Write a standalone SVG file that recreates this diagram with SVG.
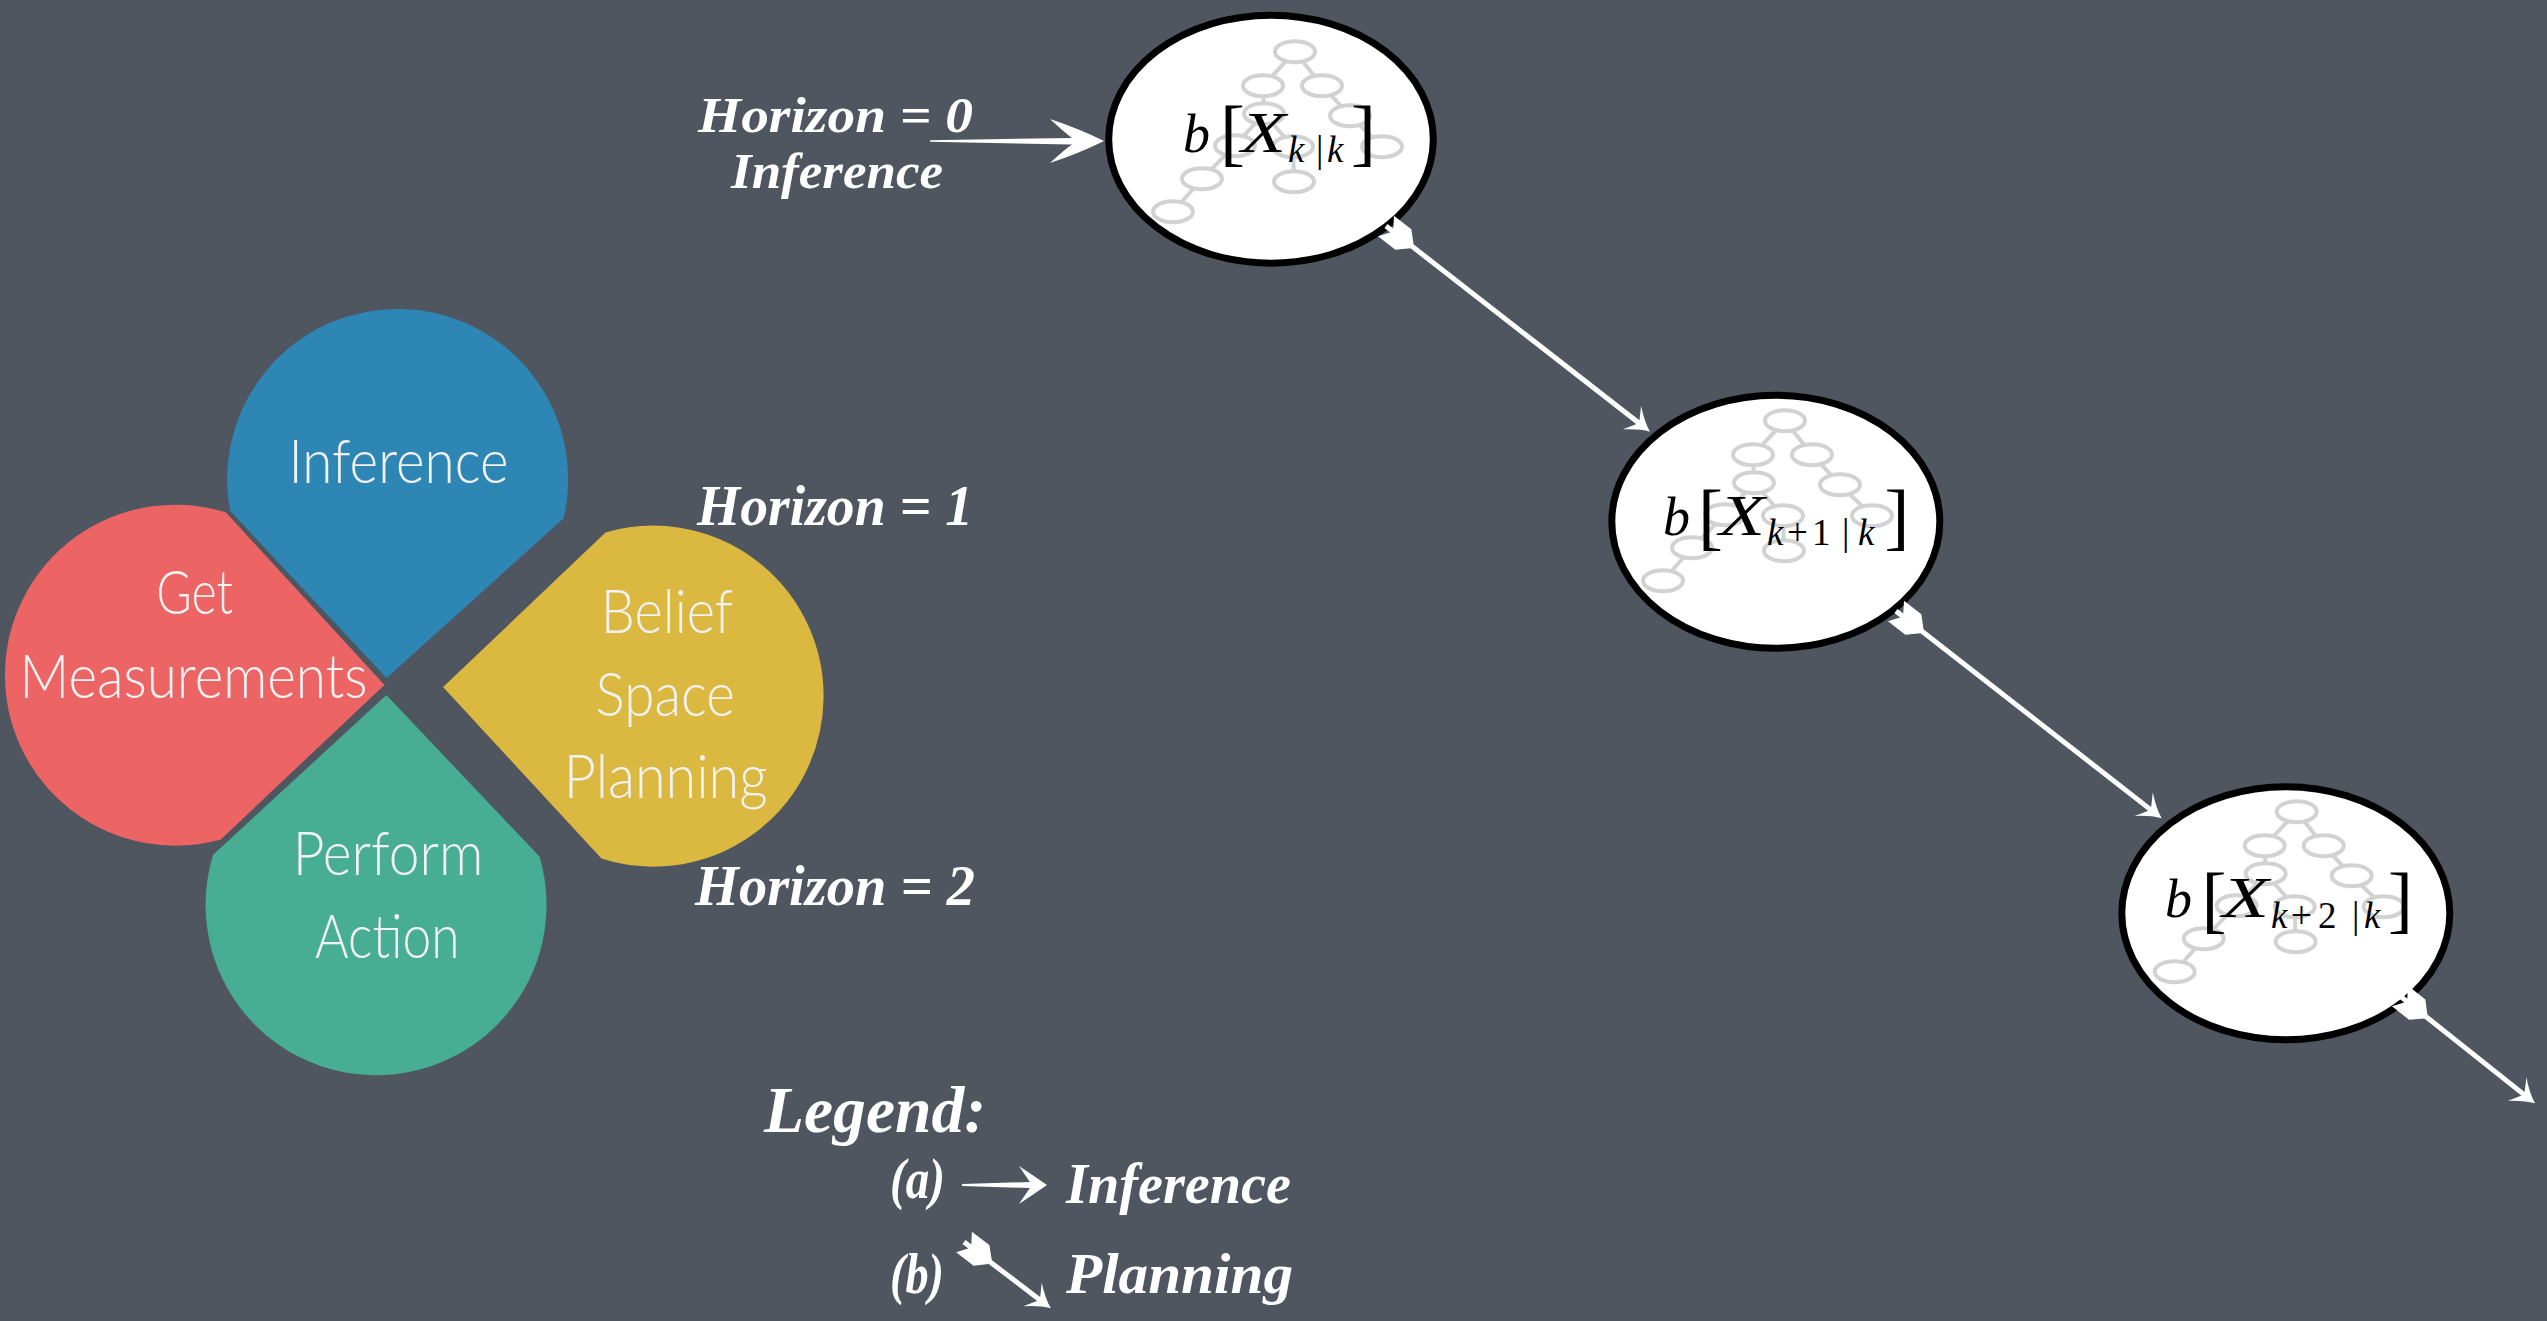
<svg xmlns="http://www.w3.org/2000/svg" width="2547" height="1321" viewBox="0 0 2547 1321">
<style>
.petal{stroke:#4f5660;stroke-width:3}
.ptxt{font-family:Lato,"Open Sans",sans-serif;font-weight:300;font-size:62px;fill:#f2f2f2}
.hand{font-family:"Liberation Serif",serif;font-weight:bold;font-style:italic;fill:#ffffff}
.node{fill:#ffffff;stroke:#000000;stroke-width:7}
.tree line{stroke:#d2d2d2;stroke-width:4}
.tree ellipse{stroke:#d2d2d2;stroke-width:4;fill:#ffffff}
.mi{font-family:"Liberation Serif",serif;font-style:italic;fill:#000000}
.mn{font-family:"Liberation Serif",serif;fill:#000000}
.plan{stroke:#ffffff;stroke-width:5;fill:none;marker-start:url(#fletch);marker-end:url(#head)}
.inf{fill:#ffffff}
</style>
<defs>
<marker id="fletch" markerUnits="userSpaceOnUse" orient="auto" refX="0" refY="0" markerWidth="40" markerHeight="30" overflow="visible">
<path d="M0,-13 L22,-13 L33,-2.5 L33,2.5 L22,13 L0,13 L9,0 Z" fill="#ffffff"/>
</marker>
<marker id="head" markerUnits="userSpaceOnUse" orient="auto" refX="0" refY="0" markerWidth="30" markerHeight="30" overflow="visible">
<path d="M10,0 Q0,-4 -13,-15 Q-6,-4 -4,0 Q-6,4 -13,15 Q0,4 10,0 Z" fill="#ffffff"/>
</marker>
<g id="tree" class="tree">
<line x1="0" y1="0" x2="-32" y2="34"/>
<line x1="0" y1="0" x2="27" y2="34"/>
<line x1="-32" y1="34" x2="-31" y2="62"/>
<line x1="27" y1="34" x2="55" y2="64"/>
<line x1="-31" y1="62" x2="-60" y2="94"/>
<line x1="-31" y1="62" x2="-2" y2="95"/>
<line x1="55" y1="64" x2="87" y2="95"/>
<line x1="-60" y1="94" x2="-93" y2="127"/>
<line x1="-2" y1="95" x2="-1" y2="130"/>
<line x1="-93" y1="127" x2="-122" y2="160"/>
<ellipse cx="0" cy="0" rx="20" ry="10.5"/>
<ellipse cx="-32" cy="34" rx="20" ry="10.5"/>
<ellipse cx="27" cy="34" rx="20" ry="10.5"/>
<ellipse cx="-31" cy="62" rx="20" ry="10.5"/>
<ellipse cx="55" cy="64" rx="20" ry="10.5"/>
<ellipse cx="-60" cy="94" rx="20" ry="10.5"/>
<ellipse cx="-2" cy="95" rx="20" ry="10.5"/>
<ellipse cx="87" cy="95" rx="20" ry="10.5"/>
<ellipse cx="-93" cy="127" rx="20" ry="10.5"/>
<ellipse cx="-1" cy="130" rx="20" ry="10.5"/>
<ellipse cx="-122" cy="160" rx="20" ry="10.5"/>
</g>
</defs>
<rect x="0" y="0" width="2547" height="1321" fill="#4f5660"/>

<g id="petal-inference">
<path class="petal" fill="#2e86b4" d="M386.5,680 L228.7,511.6 A172,172 0 1 1 565,519.2 Z"/>
<text class="ptxt" x="288.5" y="483" textLength="220" lengthAdjust="spacingAndGlyphs">Inference</text>
</g>
<g id="petal-measurements">
<path class="petal" fill="#ec6464" d="M386.5,685 L226.6,511 A172,172 0 1 0 221.3,841 Z"/>
<text class="ptxt" x="156.2" y="614" textLength="77" lengthAdjust="spacingAndGlyphs">Get</text>
<text class="ptxt" x="19.6" y="698" textLength="348" lengthAdjust="spacingAndGlyphs">Measurements</text>
</g>
<g id="petal-action">
<path class="petal" fill="#47ad93" d="M386.5,693 L211.8,853.8 A172,172 0 1 0 541,856 Z"/>
<text class="ptxt" x="292.7" y="875" textLength="190.6" lengthAdjust="spacingAndGlyphs">Perform</text>
<text class="ptxt" x="315" y="958" textLength="144.5" lengthAdjust="spacingAndGlyphs">Action</text>
</g>
<g id="petal-planning">
<path class="petal" fill="#dbb840" d="M441,687 L605,531 A172,172 0 1 1 600.8,860 Z"/>
<text class="ptxt" x="600.8" y="633" textLength="132.4" lengthAdjust="spacingAndGlyphs">Belief</text>
<text class="ptxt" x="595.6" y="716" textLength="139.2" lengthAdjust="spacingAndGlyphs">Space</text>
<text class="ptxt" x="563.8" y="798" textLength="203.8" lengthAdjust="spacingAndGlyphs">Planning</text>
</g>

<g id="horizon-labels">
<text class="hand" x="698" y="132" font-size="50" textLength="275" lengthAdjust="spacingAndGlyphs">Horizon = 0</text>
<text class="hand" x="731" y="188" font-size="50" textLength="212" lengthAdjust="spacingAndGlyphs">Inference</text>
<text class="hand" x="697" y="525" font-size="56" textLength="276" lengthAdjust="spacingAndGlyphs">Horizon = 1</text>
<text class="hand" x="695" y="905" font-size="56" textLength="280" lengthAdjust="spacingAndGlyphs">Horizon = 2</text>
</g>

<g id="belief-k">
<ellipse class="node" cx="1271" cy="139.2" rx="162.3" ry="124"/>
<use href="#tree" x="1295" y="51.7"/>
<text class="mi" x="1183" y="151.7" font-size="54">b</text>
<text class="mn" x="1220" y="157" font-size="75">[</text>
<text class="mi" x="1241" y="151.7" font-size="56" textLength="45" lengthAdjust="spacingAndGlyphs">X</text>
<text class="mi" x="1288" y="161.7" font-size="37">k</text>
<text class="mn" x="1316" y="161.7" font-size="37">|</text>
<text class="mi" x="1327" y="161.7" font-size="37">k</text>
<text class="mn" x="1351" y="157" font-size="75">]</text>
</g>

<g id="belief-k1">
<ellipse class="node" cx="1775.8" cy="521.7" rx="164" ry="126.5"/>
<use href="#tree" x="1785" y="420.7"/>
<text class="mi" x="1663" y="535" font-size="54">b</text>
<text class="mn" x="1698" y="541" font-size="75">[</text>
<text class="mi" x="1719" y="535" font-size="56" textLength="46" lengthAdjust="spacingAndGlyphs">X</text>
<text class="mi" x="1767" y="545" font-size="37">k</text>
<text class="mn" x="1787" y="545" font-size="37">+</text>
<text class="mn" x="1812" y="545" font-size="37">1</text>
<text class="mn" x="1842" y="545" font-size="37">|</text>
<text class="mi" x="1858" y="545" font-size="37">k</text>
<text class="mn" x="1884.5" y="541" font-size="75">]</text>
</g>

<g id="belief-k2">
<ellipse class="node" cx="2285.8" cy="913.3" rx="164" ry="126.5"/>
<use href="#tree" x="2296.7" y="811.7"/>
<text class="mi" x="2165" y="916.7" font-size="54">b</text>
<text class="mn" x="2201.5" y="924" font-size="75">[</text>
<text class="mi" x="2222" y="916.7" font-size="56" textLength="47" lengthAdjust="spacingAndGlyphs">X</text>
<text class="mi" x="2271" y="928.3" font-size="37">k</text>
<text class="mn" x="2291" y="928.3" font-size="37">+</text>
<text class="mn" x="2318" y="928.3" font-size="37">2</text>
<text class="mn" x="2352" y="928.3" font-size="37">|</text>
<text class="mi" x="2364" y="928.3" font-size="37">k</text>
<text class="mn" x="2388" y="924" font-size="75">]</text>
</g>

<g id="connectors">
<path class="inf" d="M1104,141 Q1080,129 1050,119 Q1064,132 1072,138 L930,140.2 L930,141.8 L1072,144.5 Q1064,150 1050,163 Q1080,153 1104,141 Z"/>
<path class="plan" d="M1386,226 L1642.1,425.5"/>
<path class="plan" d="M1896,611 L2153.8,812.1"/>
<path class="plan" d="M2400,996 L2527.2,1097.1"/>
</g>

<g id="legend">
<text class="hand" x="764" y="1132" font-size="66" textLength="222" lengthAdjust="spacingAndGlyphs">Legend:</text>
<text class="hand" x="890" y="1198" font-size="56" textLength="55" lengthAdjust="spacingAndGlyphs">(a)</text>
<path class="inf" d="M1047,1185 Q1034,1176 1019,1166 Q1027,1178 1030,1182 L962,1184 L962,1186 L1030,1188 Q1027,1192 1019,1204 Q1034,1194 1047,1185 Z"/>
<text class="hand" x="1066" y="1203" font-size="56" textLength="225" lengthAdjust="spacingAndGlyphs">Inference</text>
<text class="hand" x="890" y="1293" font-size="56" textLength="54" lengthAdjust="spacingAndGlyphs">(b)</text>
<path class="plan" d="M964,1242 L1042.9,1302.2"/>
<text class="hand" x="1066" y="1293" font-size="56" textLength="227" lengthAdjust="spacingAndGlyphs">Planning</text>
</g>
</svg>
